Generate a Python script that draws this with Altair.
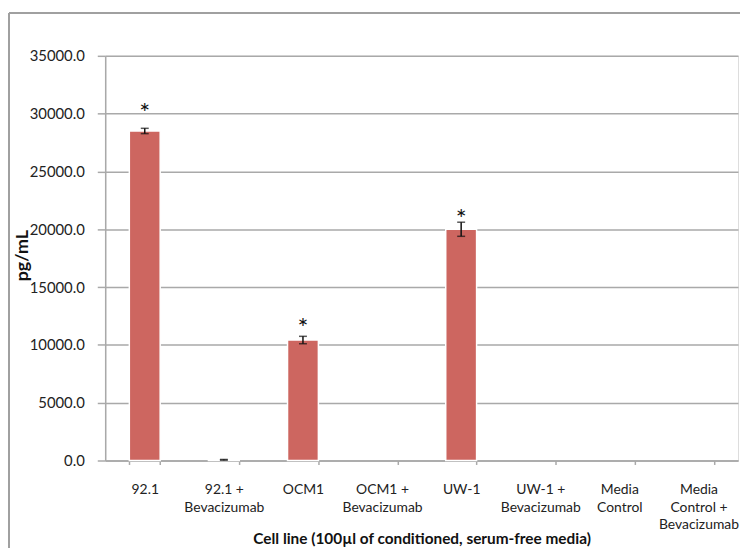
import altair as alt
import pandas as pd

categories = ["92.1", "92.1 +\nBevacizumab", "OCM1", "OCM1 +\nBevacizumab",
              "UW-1", "UW-1 +\nBevacizumab", "Media\nControl",
              "Media\nControl +\nBevacizumab"]
values = [28500, 60, 10420, 0, 20000, 0, 0, 0]
errors = [230, 30, 320, 0, 610, 0, 0, 0]
stars = ["*", "", "*", "", "*", "", "", ""]
star_level = [30540, 0, 12010, 0, 21360, 0, 0, 0]
y_ticks = [0, 5000, 10000, 15000, 20000, 25000, 30000, 35000]

df = pd.DataFrame({"cat": categories, "val": values, "err": errors,
                   "star": stars, "star_y": star_level})
df["lo"] = df["val"] - df["err"]
df["hi"] = df["val"] + df["err"]

FONT = "Lato"
GRID = "#a9a9a9"

x = alt.X("cat:N", sort=categories,
          scale=alt.Scale(domain=categories, paddingInner=0.61, paddingOuter=0.305),
          axis=alt.Axis(title="Cell line (100µl of conditioned, serum-free media)",
                        labelAngle=0, labelExpr="split(datum.label, '\\n')",
                        labelFontSize=14, labelLineHeight=18, labelPadding=18,
                        labelColor="#222", labelFont=FONT,
                        titleFont=FONT, titleFontSize=15.5, titleFontWeight="bold",
                        titleColor="#111", titleY=79, titleBaseline="middle",
                        tickSize=4, tickColor=GRID, tickWidth=1.5, tickBand="extent",
                        domainColor=GRID, domainWidth=1.5, grid=False))

y_scale = alt.Scale(domain=[0, 35000], nice=False)

bars = alt.Chart(df[df["val"] > 0]).mark_bar(color="#cd6660", stroke="white", strokeWidth=1.5).encode(
    x=x,
    y=alt.Y("val:Q", scale=y_scale,
            axis=alt.Axis(title="pg/mL", values=y_ticks, format=".1f",
                          labelFontSize=15, labelColor="#222", labelFont=FONT,
                          labelPadding=13, tickSize=8, tickColor=GRID, tickWidth=1.5,
                          domainColor=GRID, domainWidth=1.5,
                          gridColor=GRID, gridWidth=1.5,
                          titleFont=FONT, titleFontSize=18, titleFontWeight="bold",
                          titleColor="#111", titleAngle=270,
                          titleX=-83, titleY=201, titleAlign="center",
                          titleBaseline="middle")),
)

err_df = df[df["err"] > 0]
rules = alt.Chart(err_df).mark_rule(color="#111", strokeWidth=1.5).encode(
    x=alt.X("cat:N", sort=categories), y=alt.Y("lo:Q", scale=y_scale), y2="hi:Q")
caps_hi = alt.Chart(err_df).mark_tick(color="#111", size=8, thickness=1.5).encode(
    x=alt.X("cat:N", sort=categories), y=alt.Y("hi:Q", scale=y_scale))
caps_lo = alt.Chart(err_df).mark_tick(color="#111", size=8, thickness=1.5).encode(
    x=alt.X("cat:N", sort=categories), y=alt.Y("lo:Q", scale=y_scale))
star_text = alt.Chart(df[df["star"] != ""]).mark_text(
    font=FONT, fontSize=26, color="#111", dy=15, baseline="alphabetic").encode(
    x=alt.X("cat:N", sort=categories), y=alt.Y("star_y:Q", scale=y_scale), text="star:N")

border_left = alt.Chart(df).mark_rule(color="#a0a0a0", strokeWidth=1.5).encode(
    x=alt.value(-97), y=alt.value(-43), y2=alt.value(700))
border_top = alt.Chart(df).mark_rule(color="#a0a0a0", strokeWidth=1.5).encode(
    x=alt.value(-97), x2=alt.value(800), y=alt.value(-43))

chart = alt.layer(bars, rules, caps_hi, caps_lo, star_text, border_left, border_top).properties(
    width=638, height=408,
    autosize=alt.AutoSizeParams(type="none"),
    padding={"left": 98, "top": 46, "right": 2, "bottom": 86},
).configure_view(stroke=None).configure(background="white")

chart.save("out.html", embed_options={"renderer": "svg", "actions": False})
